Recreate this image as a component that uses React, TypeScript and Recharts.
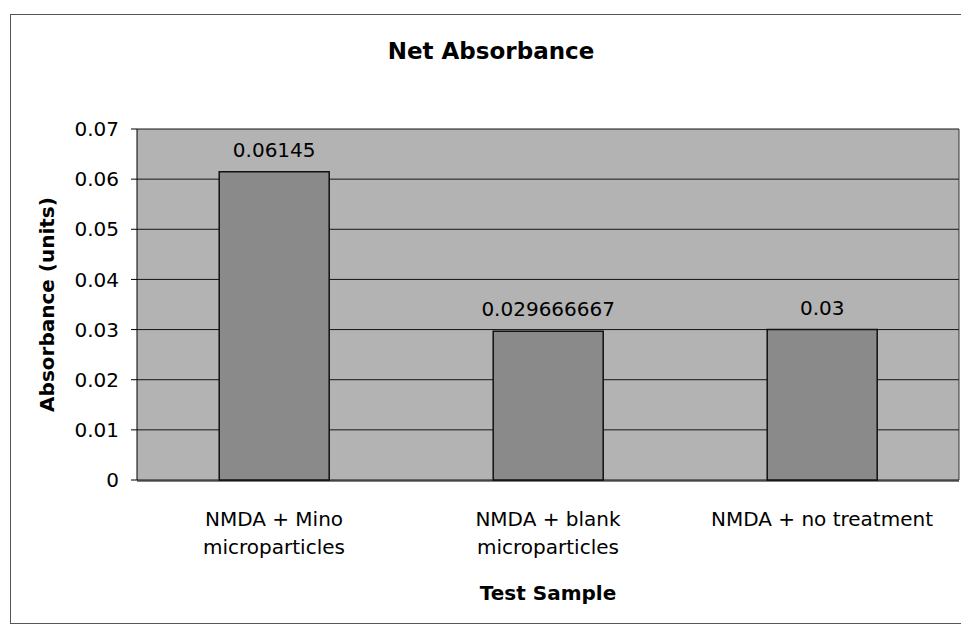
import React from 'react';
import { BarChart, Bar, XAxis, YAxis, CartesianGrid, LabelList } from 'recharts';

const categories = ['NMDA + Mino microparticles', 'NMDA + blank microparticles', 'NMDA + no treatment'];
const categoryLabelLines = [['NMDA + Mino', 'microparticles'], ['NMDA + blank', 'microparticles'], ['NMDA + no treatment']];
const netAbsorbance = [0.06145, 0.029666667, 0.03];
const valueLabels = ['0.06145', '0.029666667', '0.03'];
const yTicks = [0, 0.01, 0.02, 0.03, 0.04, 0.05, 0.06, 0.07];
const yTickLabels = ['0', '0.01', '0.02', '0.03', '0.04', '0.05', '0.06', '0.07'];
const categoryBoundaries = [0, 1, 2, 3];

const data = categories.map((c, i) => ({ category: c, value: netAbsorbance[i], label: valueLabels[i] }));

const FONT = '"DejaVu Sans", Verdana, sans-serif';

const CategoryTick = (props: any) => {
  const { x, y, payload } = props;
  const lines = categoryLabelLines[payload.index] || [String(payload.value)];
  return (
    <text x={x} y={y} textAnchor="middle" fontFamily={FONT} fontSize={20} fill="#000">
      {lines.map((l, i) => (
        <tspan key={i} x={x} y={y + 46 + i * 28}>{l}</tspan>
      ))}
    </text>
  );
};

const YTitle = (props: any) => {
  const vb = props.viewBox || { x: 0, y: 0, width: 0, height: 0 };
  const cx = vb.x + 47;
  const cy = vb.y + vb.height / 2;
  return (
    <text x={cx} y={cy} transform={`rotate(-90, ${cx}, ${cy})`} textAnchor="middle" dominantBaseline="central"
      fontFamily={FONT} fontSize={20} fontWeight="bold" fill="#000">
      Absorbance (units)
    </text>
  );
};

export default function App() {
  return (
    <div style={{ position: 'absolute', left: 0, top: 0, width: 961, height: 625, overflow: 'hidden', background: '#fff' }}>
      <div style={{ position: 'absolute', left: 10, top: 14, width: 980, height: 608, border: '1px solid #555' }} />
      <div style={{ position: 'absolute', left: 10, top: 40, width: 962, textAlign: 'center', fontFamily: FONT, fontSize: 23, fontWeight: 'bold', lineHeight: '23px', color: '#000' }}>
        Net Absorbance
      </div>
      <div style={{ position: 'absolute', left: 0, top: 0 }}>
        <BarChart width={961} height={625} data={data} margin={{ top: 129, right: 1, bottom: 0, left: 0 }} barCategoryGap="30%">
          <CartesianGrid vertical={false} horizontal={true} fill="#b3b3b3" fillOpacity={1} stroke="#151515" strokeWidth={1} syncWithTicks />
          <XAxis dataKey="category" height={1} axisLine={false} tickLine={false} tickSize={0} tickMargin={0}
            interval={0} tick={<CategoryTick />} />
          <XAxis xAxisId="b" type="number" domain={[0, 3]} ticks={categoryBoundaries} height={144} tickSize={6}
            tick={false} axisLine={{ stroke: '#000' }} tickLine={{ stroke: '#000' }} allowDataOverflow
            label={{ value: 'Test Sample', position: 'insideBottom', offset: 25, fontFamily: FONT, fontSize: 20, fontWeight: 'bold', fill: '#000' }} />
          <YAxis type="number" domain={[0, 0.07]} ticks={yTicks} width={137} interval={0}
            tickFormatter={(v: number) => yTickLabels[yTicks.indexOf(v)] ?? String(v)}
            tick={{ fontFamily: FONT, fontSize: 20, fill: '#000' }} tickSize={6} tickMargin={12}
            axisLine={{ stroke: '#000' }} tickLine={{ stroke: '#000' }}
            label={{ content: <YTitle /> }} />
          <YAxis yAxisId="r" orientation="right" width={1} tick={false} tickLine={false} axisLine={{ stroke: '#333' }} />
          <Bar dataKey="value" fill="#8a8a8a" stroke="#111" strokeWidth={1.5} isAnimationActive={false}>
            <LabelList dataKey="label" position="top" offset={15} fontFamily={FONT} fontSize={20} fill="#000" />
          </Bar>
        </BarChart>
      </div>
    </div>
  );
}
